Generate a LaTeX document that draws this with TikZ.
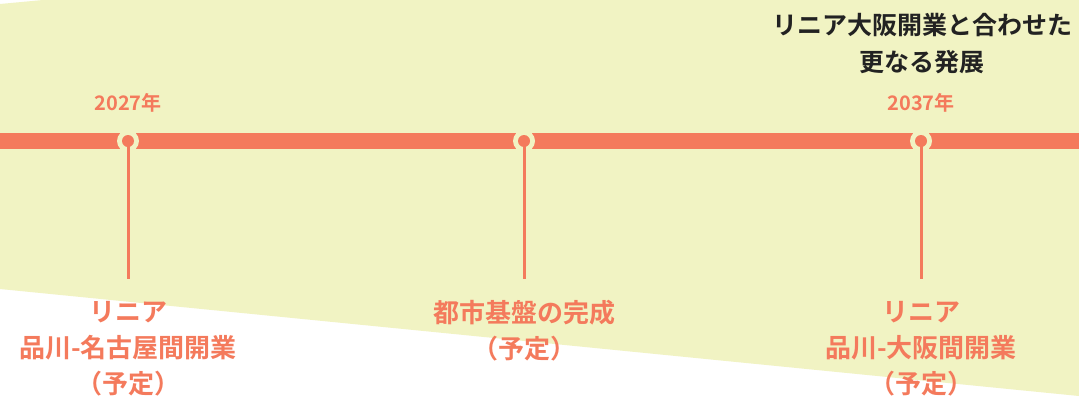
\documentclass[tikz,border=0pt]{standalone}
\usepackage{fontspec}
\newfontfamily\jp{Noto Sans CJK JP}[BoldFont={Noto Sans CJK JP Bold}]
\definecolor{bgy}{HTML}{F1F3C3}
\definecolor{sal}{HTML}{F47A5C}
\definecolor{ink}{HTML}{222222}
\begin{document}
\begin{tikzpicture}[x=1pt,y=-1pt,
  yeartxt/.style={text=sal,font={\jp\bfseries\fontsize{20}{24}\selectfont},inner sep=0pt},
  labeltxt/.style={text=sal,align=center,font={\jp\bfseries\fontsize{26}{36}\selectfont},inner sep=0pt},
  titletxt/.style={text=ink,align=center,font={\jp\bfseries\fontsize{25}{37}\selectfont},inner sep=0pt},
  ring/.style={circle,fill=bgy,minimum size=22pt,inner sep=0pt},
  dot/.style={circle,fill=sal,minimum size=12pt,inner sep=0pt},
  stem/.style={draw=sal,line width=3pt}]
\useasboundingbox (0,0) rectangle (1079,399);
\fill[white] (0,0) rectangle (1079,399);
\fill[bgy] (0,4) -- (43,0) -- (1079,0) -- (1079,396) -- (0,289) -- cycle;
% bar
\coordinate (barL) at (0,141);
\coordinate (barR) at (1079,141);
\draw[sal,line width=16pt] (barL) -- (barR);
% milestones
\foreach \n/\x in {a/128,b/524,c/921}{
  \node[ring] (r\n) at (\x,141) {};
  \coordinate (e\n) at (\x,279);
  \draw[stem] (r\n.center) -- (e\n);
  \node[dot] (d\n) at (\x,141) {};
}
\node[yeartxt] (ya) at (128,103) {2027年};
\node[yeartxt] (yc) at (921,103) {2037年};
\node[titletxt] (title) at (922,43.5) {リニア大阪開業と合わせた\\更なる発展};
\node[labeltxt] (la) at (128,349) {リニア\\品川-名古屋間開業\\（予定）};
\node[labeltxt] (lb) at (524,331) {都市基盤の完成\\（予定）};
\node[labeltxt] (lc) at (921,349) {リニア\\品川-大阪間開業\\（予定）};
\end{tikzpicture}
\end{document}
